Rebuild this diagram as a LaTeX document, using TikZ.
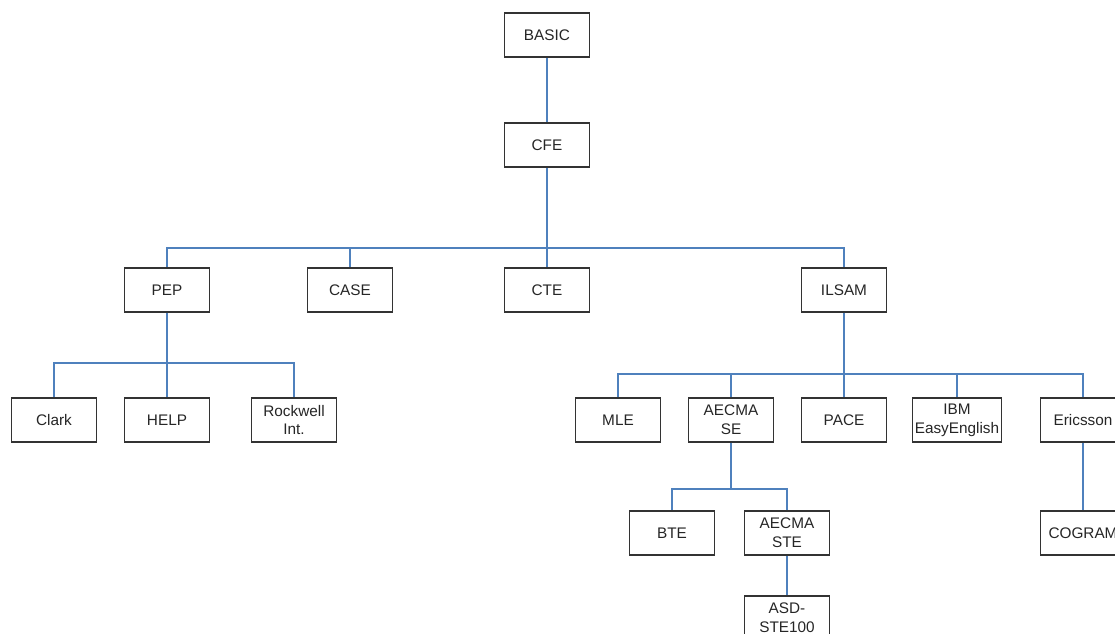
\documentclass[tikz,border=0pt]{standalone}
\usepackage{fontspec}
\setmainfont{Liberation Sans}

\begin{document}
\begin{tikzpicture}[x=0.75pt, y=-0.75pt,
        box/.style={draw=black!80, line width=0.9pt, fill=white, align=center,
            minimum width=63.75pt, minimum height=33pt, inner sep=2pt,
            font=\fontsize{11.5}{14}\selectfont, text=black!85},
        link/.style={draw={rgb,255:red,79;green,129;blue,189}, line width=1pt}]
                \useasboundingbox (0, 0) rectangle (1115, 633);
                \clip (0, 0) rectangle (1115, 633);
                \node [box] (basic) at (547, 35) {BASIC};
                \node [box] (cfe) at (547, 145) {CFE};
                \node [box] (pep) at (167, 290) {PEP};
                \node [box] (case) at (350, 290) {CASE};
                \node [box] (cte) at (547, 290) {CTE};
                \node [box] (ilsam) at (844, 290) {ILSAM};
                \node [box] (clark) at (54, 420) {Clark};
                \node [box] (help) at (167, 420) {HELP};
                \node [box] (rockwell) at (294, 420) {Rockwell\\Int.};
                \node [box] (mle) at (618, 420) {MLE};
                \node [box] (aecmase) at (731, 420) {AECMA\\SE};
                \node [box] (pace) at (844, 420) {PACE};
                \node [box] (ibm) at (957, 420) {IBM\\EasyEnglish};
                \node [box] (ericsson) at (1083, 420) {Ericsson};
                \node [box] (bte) at (672, 533) {BTE};
                \node [box] (aecmaste) at (787, 533) {AECMA\\STE};
                \node [box] (asdste) at (787, 618) {ASD-\\STE100};
                \node [box] (cogram) at (1083, 533) {COGRAM};
                \coordinate (cfebus) at (547, 248);
                \coordinate (pepbus) at (167, 363);
                \coordinate (ilsambus) at (844, 374);
                \coordinate (sebus) at (731, 489);
                \draw [link] (basic) -- (cfe);
                \draw [link] (cfe) -- (cfebus);
                \draw [link] (cfebus) -| (pep);
                \draw [link] (cfebus) -| (case);
                \draw [link] (cfebus) -- (cte);
                \draw [link] (cfebus) -| (ilsam);
                \draw [link] (pep) -- (pepbus);
                \draw [link] (pepbus) -| (clark);
                \draw [link] (pepbus) -- (help);
                \draw [link] (pepbus) -| (rockwell);
                \draw [link] (ilsam) -- (ilsambus);
                \draw [link] (ilsambus) -| (mle);
                \draw [link] (ilsambus) -| (aecmase);
                \draw [link] (ilsambus) -- (pace);
                \draw [link] (ilsambus) -| (ibm);
                \draw [link] (ilsambus) -| (ericsson);
                \draw [link] (aecmase) -- (sebus);
                \draw [link] (sebus) -| (bte);
                \draw [link] (sebus) -| (aecmaste);
                \draw [link] (aecmaste) -- (asdste);
                \draw [link] (ericsson) -- (cogram);
            \end{tikzpicture}
\end{document}
